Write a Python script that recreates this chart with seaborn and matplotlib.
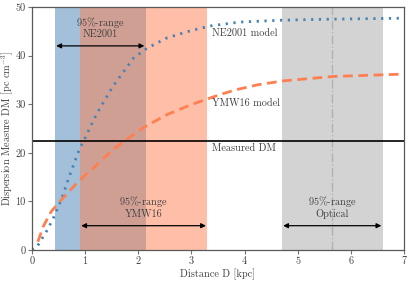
import matplotlib
matplotlib.use("Agg")
import matplotlib.pyplot as plt
import seaborn as sns
import pandas as pd

# ---- data ----
ne_D = [0, 0.08, 0.27, 0.40, 0.55, 0.71, 0.90, 0.97, 1.22, 1.53, 1.91, 2.16, 2.53, 2.91, 3.35, 3.91, 4.73, 5.66, 7.0]
ne_DM = [0, 0.4, 3.8, 6.5, 10.3, 15.4, 21.0, 22.4, 28.1, 33.8, 39.5, 41.5, 43.6, 44.9, 46.1, 46.9, 47.3, 47.5, 47.7]

ymw_D = [0.11, 0.21, 0.36, 0.55, 0.87, 1.18, 1.31, 1.52, 1.72, 2.13, 2.53, 2.97, 3.54, 3.85, 4.25, 4.73, 5.66, 7.0]
ymw_DM = [1.7, 4.8, 7.9, 10.3, 14.1, 17.1, 18.5, 20.6, 22.3, 25.4, 27.8, 29.8, 32.0, 33.0, 34.0, 34.8, 35.7, 36.2]

measured_DM = 22.4
ne_range = [0.43, 2.14]
ymw_range = [0.90, 3.30]
opt_range = [4.70, 6.60]
opt_median = 5.65

x_ticks = [0, 1, 2, 3, 4, 5, 6, 7]
y_ticks = [0, 10, 20, 30, 40, 50]

sns.set_style("ticks")
plt.rcParams['font.family'] = ['cmr10', 'DejaVu Serif']
plt.rcParams['mathtext.fontset'] = 'cm'
plt.rcParams['axes.formatter.use_mathtext'] = True

fig = plt.figure(figsize=(4.11, 2.81), dpi=100)
ax = fig.add_axes([32/411, 1-250/281, (404-32)/411, (250-7)/281])

fs = 7.4
tc = '0.25'

ax.axvspan(*ne_range, color='#4682b4', alpha=0.5, lw=0)
ax.axvspan(*ymw_range, color='#ff7f50', alpha=0.5, lw=0)
ax.axvspan(*opt_range, color='lightgray', alpha=1.0, lw=0)
ax.axvline(opt_median, color='darkgray', ls='-.', lw=1.0, alpha=0.8)

ne_df = pd.DataFrame({'D': ne_D, 'DM': ne_DM})
ymw_df = pd.DataFrame({'D': ymw_D, 'DM': ymw_DM})
sns.lineplot(data=ne_df, x='D', y='DM', ax=ax, color='#4682b4', lw=2.0,
             linestyle=(0, (0.8, 2.0)), sort=False)
sns.lineplot(data=ymw_df, x='D', y='DM', ax=ax, color='#ff7f50', lw=2.0,
             linestyle=(0, (3.5, 2.0)), sort=False)
ax.axhline(measured_DM, color='black', lw=1.2)

ax.text(3.38, 44.6, 'NE2001 model', fontsize=fs, color=tc, va='center', ha='left')
ax.text(3.38, 30.2, 'YMW16 model', fontsize=fs, color=tc, va='center', ha='left')
ax.text(3.38, 20.9, 'Measured DM', fontsize=fs, color=tc, va='center', ha='left')

def range_arrow(rng, y, label):
    ax.annotate('', xy=(rng[0], y), xytext=(rng[1], y),
                arrowprops=dict(arrowstyle='<|-|>', color='black', lw=0.9,
                                shrinkA=1, shrinkB=1, mutation_scale=7))
    ax.text((rng[0]+rng[1])/2, y+1.4, '95$\\%$-range\n' + label, fontsize=fs,
            color=tc, ha='center', va='bottom', linespacing=1.0)

range_arrow(ne_range, 42.0, 'NE2001')
range_arrow(ymw_range, 5.0, 'YMW16')
range_arrow(opt_range, 5.0, 'Optical')

ax.set_xlim(0, 7)
ax.set_ylim(0, 50)
ax.set_xticks(x_ticks)
ax.set_yticks(y_ticks)
ax.set_xticklabels([str(t) for t in x_ticks])
ax.set_yticklabels([str(t) for t in y_ticks])
ax.set_xlabel('Distance D [kpc]', fontsize=fs, color=tc, labelpad=2)
ax.set_ylabel(r'Dispersion Measure DM [pc cm$^{-3}$]', fontsize=fs, color=tc)
ax.yaxis.set_label_coords(-0.046, 0.5)
ax.tick_params(labelsize=fs, colors='0.45', labelcolor=tc, length=3, width=0.8, pad=1.5)
for s in ax.spines.values():
    s.set_color('0.35')
    s.set_linewidth(0.9)

fig.savefig('out.png', dpi=100)
